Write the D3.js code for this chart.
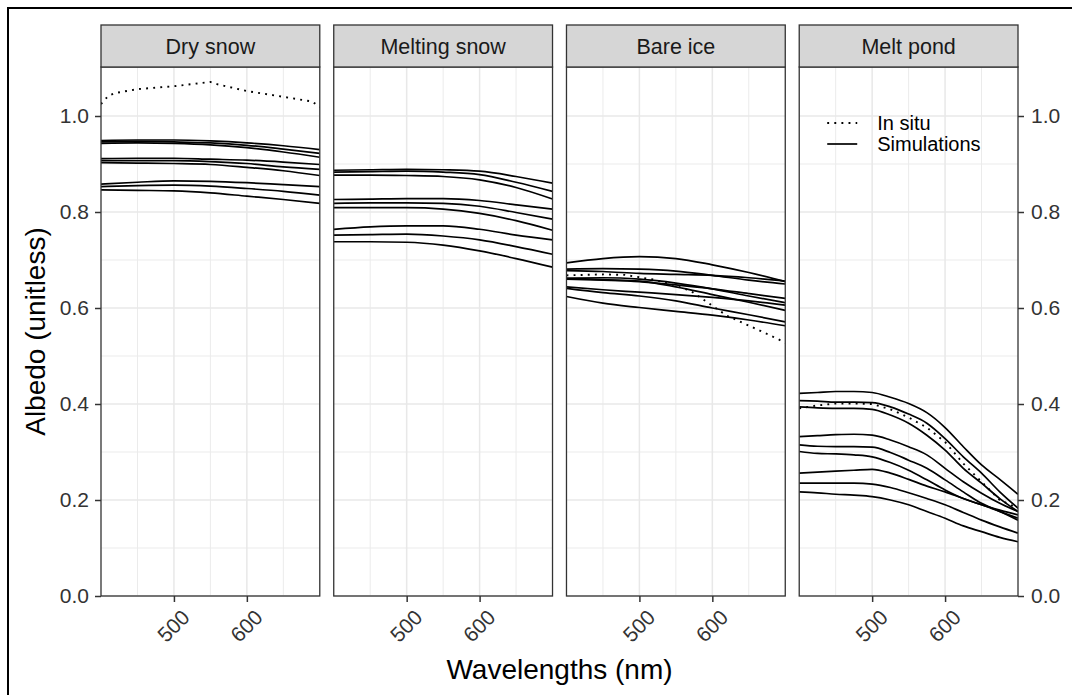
<!DOCTYPE html>
<html>
<head>
<meta charset="utf-8">
<script src="https://cdn.jsdelivr.net/npm/d3@7"></script>
<style>
  body { margin: 0; background: #fff; }
  svg { font-family: "Liberation Sans", Arial, Helvetica, sans-serif; }
</style>
</head>
<body>
<svg width="1072" height="695"></svg>
<script>
// values
const panelNames = ["Dry snow", "Melting snow", "Bare ice", "Melt pond"];

const simWl = [400, 450, 500, 550, 600, 650, 700];

const drySnowSims = [
  [0.949, 0.950, 0.950, 0.948, 0.944, 0.938, 0.930],
  [0.946, 0.947, 0.946, 0.944, 0.939, 0.931, 0.922],
  [0.943, 0.944, 0.943, 0.940, 0.934, 0.925, 0.914],
  [0.911, 0.912, 0.912, 0.910, 0.908, 0.904, 0.899],
  [0.907, 0.907, 0.907, 0.905, 0.901, 0.894, 0.889],
  [0.903, 0.902, 0.901, 0.899, 0.893, 0.886, 0.876],
  [0.858, 0.862, 0.865, 0.864, 0.861, 0.857, 0.853],
  [0.853, 0.855, 0.856, 0.854, 0.849, 0.843, 0.835],
  [0.846, 0.845, 0.844, 0.840, 0.833, 0.826, 0.818]
];

const meltingSnowSims = [
  [0.887, 0.888, 0.889, 0.888, 0.885, 0.874, 0.860],
  [0.883, 0.884, 0.885, 0.883, 0.878, 0.862, 0.843],
  [0.877, 0.877, 0.876, 0.874, 0.867, 0.851, 0.827],
  [0.826, 0.827, 0.828, 0.828, 0.824, 0.815, 0.806],
  [0.818, 0.819, 0.819, 0.818, 0.812, 0.799, 0.785],
  [0.809, 0.809, 0.809, 0.806, 0.797, 0.782, 0.762],
  [0.764, 0.769, 0.771, 0.771, 0.764, 0.752, 0.742],
  [0.752, 0.753, 0.754, 0.750, 0.742, 0.728, 0.712],
  [0.738, 0.738, 0.737, 0.731, 0.719, 0.703, 0.685]
];

const bareIceSims = [
  [0.694, 0.703, 0.707, 0.703, 0.690, 0.674, 0.655],
  [0.681, 0.682, 0.681, 0.677, 0.668, 0.658, 0.650],
  [0.678, 0.676, 0.672, 0.670, 0.668, 0.663, 0.656],
  [0.662, 0.663, 0.660, 0.652, 0.640, 0.625, 0.611],
  [0.660, 0.658, 0.655, 0.648, 0.640, 0.630, 0.620],
  [0.662, 0.659, 0.656, 0.644, 0.628, 0.612, 0.595],
  [0.644, 0.638, 0.633, 0.628, 0.622, 0.615, 0.606],
  [0.641, 0.632, 0.625, 0.615, 0.600, 0.586, 0.571],
  [0.624, 0.610, 0.601, 0.593, 0.585, 0.575, 0.563]
];

const pondWl = [400, 425, 450, 475, 500, 525, 550, 575, 600, 625, 650, 675, 700];

const meltPondSims = [
  [0.422, 0.424, 0.426, 0.426, 0.424, 0.414, 0.401, 0.382, 0.351, 0.311, 0.273, 0.243, 0.212],
  [0.407, 0.406, 0.404, 0.404, 0.403, 0.394, 0.379, 0.360, 0.328, 0.290, 0.256, 0.217, 0.183],
  [0.394, 0.392, 0.391, 0.391, 0.389, 0.377, 0.360, 0.335, 0.304, 0.266, 0.235, 0.203, 0.176],
  [0.332, 0.334, 0.336, 0.337, 0.335, 0.325, 0.311, 0.294, 0.266, 0.238, 0.214, 0.193, 0.176],
  [0.315, 0.312, 0.311, 0.311, 0.310, 0.299, 0.283, 0.266, 0.242, 0.217, 0.193, 0.176, 0.158],
  [0.301, 0.297, 0.296, 0.294, 0.290, 0.278, 0.262, 0.242, 0.221, 0.203, 0.190, 0.176, 0.162],
  [0.256, 0.258, 0.260, 0.262, 0.264, 0.256, 0.243, 0.229, 0.217, 0.203, 0.190, 0.179, 0.169],
  [0.235, 0.235, 0.235, 0.235, 0.233, 0.226, 0.215, 0.203, 0.190, 0.174, 0.158, 0.144, 0.131],
  [0.217, 0.215, 0.212, 0.210, 0.207, 0.200, 0.190, 0.176, 0.162, 0.146, 0.134, 0.122, 0.113]
];

const drySnowInSituWl = [400, 410, 420, 450, 500, 550, 560, 600, 650, 690, 700];
const drySnowInSitu = [1.025, 1.042, 1.048, 1.056, 1.062, 1.071, 1.066, 1.052, 1.040, 1.030, 1.018];

const bareIceInSituWl = [400, 450, 480, 520, 540, 570, 595, 620, 665, 700];
const bareIceInSitu = [0.668, 0.670, 0.669, 0.659, 0.651, 0.636, 0.610, 0.584, 0.553, 0.528];

const meltPondInSitu = [0.391, 0.397, 0.401, 0.401, 0.400, 0.389, 0.372, 0.351, 0.321, 0.276, 0.238, 0.200, 0.183];

const yTicks = [0, 0.2, 0.4, 0.6, 0.8, 1.0];
const yMinor = [0.1, 0.3, 0.5, 0.7, 0.9];
const xTicks = [500, 600];
const xMinor = [450, 550, 650];

const legendLabels = ["In situ", "Simulations"];

// build series per panel
function toPts(wl, vals) { return wl.map((w, i) => ({w: w, v: vals[i]})); }

const panels = [
  {name: panelNames[0], sims: drySnowSims.map(s => toPts(simWl, s)), insitu: toPts(drySnowInSituWl, drySnowInSitu)},
  {name: panelNames[1], sims: meltingSnowSims.map(s => toPts(simWl, s)), insitu: null},
  {name: panelNames[2], sims: bareIceSims.map(s => toPts(simWl, s)), insitu: toPts(bareIceInSituWl, bareIceInSitu)},
  {name: panelNames[3], sims: meltPondSims.map(s => toPts(pondWl, s)), insitu: toPts(pondWl, meltPondInSitu)}
];

const svg = d3.select("svg");
const plotTop = 67, plotBottom = 596, stripTop = 25;
const tickFont = 21, tickColor = "#333";

svg.append("rect").attr("width", 1072).attr("height", 695).attr("fill", "#fff");
// cropped outer frame (only top/left visible)
svg.append("rect").attr("x", 8).attr("y", 8).attr("width", 1100).attr("height", 720)
  .attr("fill", "none").attr("stroke", "#000").attr("stroke-width", 2);

const band = d3.scaleBand().domain(panelNames).range([101, 1018]).paddingInner(0.06).paddingOuter(0);
const pw = band.bandwidth();
const x = d3.scaleLinear().domain([400, 700]).range([0, pw]);
const y = d3.scaleLinear().domain([0, 1.1]).range([plotBottom, plotTop + 1]);

const simLine = d3.line().x(d => x(d.w)).y(d => y(d.v)).curve(d3.curveMonotoneX);
const obsLine = d3.line().x(d => x(d.w)).y(d => y(d.v));

panels.forEach((p, i) => {
  const g = svg.append("g").attr("transform", "translate(" + band(p.name) + ",0)");

  g.append("clipPath").attr("id", "clip" + i)
    .append("rect").attr("x", 0).attr("y", plotTop).attr("width", pw).attr("height", plotBottom - plotTop);

  // grid
  g.selectAll(".ymin").data(yMinor).enter().append("line")
    .attr("x1", 0).attr("x2", pw).attr("y1", d => y(d)).attr("y2", d => y(d))
    .attr("stroke", "#ebebeb").attr("stroke-width", 1);
  g.selectAll(".xmin").data(xMinor).enter().append("line")
    .attr("y1", plotTop).attr("y2", plotBottom).attr("x1", d => x(d)).attr("x2", d => x(d))
    .attr("stroke", "#ebebeb").attr("stroke-width", 1);
  g.selectAll(".ymaj").data(yTicks).enter().append("line")
    .attr("x1", 0).attr("x2", pw).attr("y1", d => y(d)).attr("y2", d => y(d))
    .attr("stroke", "#e8e8e8").attr("stroke-width", 1.5);
  g.selectAll(".xmaj").data(xTicks).enter().append("line")
    .attr("y1", plotTop).attr("y2", plotBottom).attr("x1", d => x(d)).attr("x2", d => x(d))
    .attr("stroke", "#e8e8e8").attr("stroke-width", 1.5);

  const lines = g.append("g").attr("clip-path", "url(#clip" + i + ")");
  lines.selectAll(".sim").data(p.sims).enter().append("path")
    .attr("d", simLine).attr("fill", "none").attr("stroke", "#000").attr("stroke-width", 1.7);
  if (p.insitu) {
    lines.append("path").attr("d", obsLine(p.insitu)).attr("fill", "none")
      .attr("stroke", "#000").attr("stroke-width", 1.9).attr("stroke-dasharray", "1.9,5.2");
  }

  // panel border
  g.append("rect").attr("x", 0).attr("y", plotTop).attr("width", pw).attr("height", plotBottom - plotTop)
    .attr("fill", "none").attr("stroke", "#333").attr("stroke-width", 1.3);

  // strip
  g.append("rect").attr("x", 0).attr("y", stripTop).attr("width", pw).attr("height", plotTop - stripTop)
    .attr("fill", "#d6d6d6").attr("stroke", "#333").attr("stroke-width", 1.3);
  g.append("text").attr("x", pw / 2).attr("y", (stripTop + plotTop) / 2).attr("dy", "0.36em")
    .attr("text-anchor", "middle").attr("font-size", 21.5).attr("fill", "#1a1a1a").text(p.name);

  // bottom axis
  const xa = g.append("g").attr("transform", "translate(0," + plotBottom + ")")
    .call(d3.axisBottom(x).tickValues(xTicks).tickSize(6).tickFormat(d3.format("d")));
  xa.select(".domain").remove();
  xa.selectAll(".tick line").attr("stroke", "#333").attr("stroke-width", 1.5);
  xa.selectAll(".tick text")
    .attr("font-size", tickFont).attr("fill", tickColor).attr("font-family", null)
    .attr("text-anchor", "end").attr("y", 0).attr("dy", "0.72em")
    .attr("transform", "translate(6,12) rotate(-45)");

  if (i === 0) {
    const ya = g.append("g").call(d3.axisLeft(y).tickValues(yTicks).tickSize(6).tickPadding(6).tickFormat(d3.format(".1f")));
    ya.select(".domain").remove();
    ya.selectAll(".tick line").attr("stroke", "#333").attr("stroke-width", 1.5);
    ya.selectAll(".tick text").attr("font-size", tickFont).attr("fill", tickColor).attr("font-family", null);
  }
  if (i === panels.length - 1) {
    const ya = g.append("g").attr("transform", "translate(" + pw + ",0)")
      .call(d3.axisRight(y).tickValues(yTicks).tickSize(6).tickPadding(7).tickFormat(d3.format(".1f")));
    ya.select(".domain").remove();
    ya.selectAll(".tick line").attr("stroke", "#333").attr("stroke-width", 1.5);
    ya.selectAll(".tick text").attr("font-size", tickFont).attr("fill", tickColor).attr("font-family", null);

    // legend
    const lg = g.append("g").attr("transform", "translate(28,123)");
    legendLabels.forEach((lab, k) => {
      const row = lg.append("g").attr("transform", "translate(0," + (k * 21) + ")");
      row.append("line").attr("x1", 0).attr("x2", 30).attr("y1", 0).attr("y2", 0)
        .attr("stroke", "#000").attr("stroke-width", k === 0 ? 1.9 : 1.7)
        .attr("stroke-dasharray", k === 0 ? "1.9,5.2" : null);
      row.append("text").attr("x", 50).attr("y", 0).attr("dy", "0.36em")
        .attr("font-size", 20).attr("fill", "#000").text(lab);
    });
  }
});

// axis titles
svg.append("text").attr("x", (101 + 1018) / 2).attr("y", 679).attr("text-anchor", "middle")
  .attr("font-size", 28).attr("fill", "#000").text("Wavelengths (nm)");
svg.append("text").attr("transform", "translate(45," + ((plotTop + plotBottom) / 2) + ") rotate(-90)")
  .attr("text-anchor", "middle").attr("font-size", 28).attr("fill", "#000").text("Albedo (unitless)");
</script>
</body>
</html>
